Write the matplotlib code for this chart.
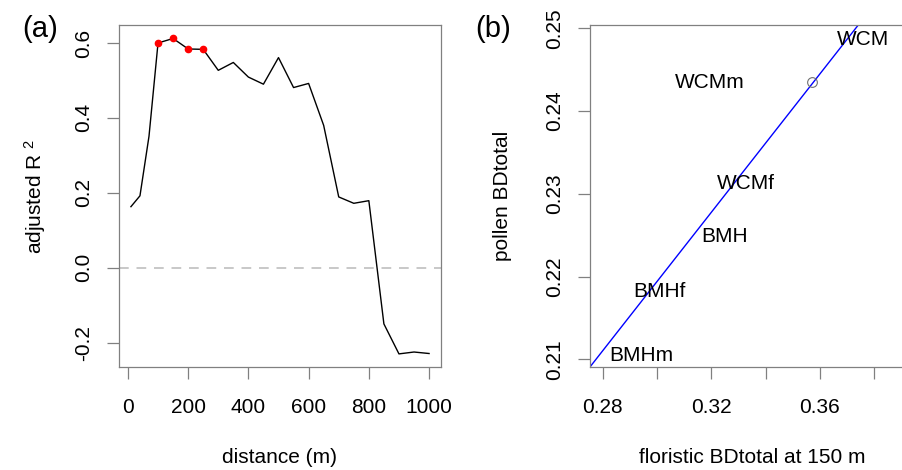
import matplotlib
matplotlib.use("Agg")
import matplotlib.pyplot as plt

plt.rcParams["font.family"] = ["Liberation Sans", "DejaVu Sans"]
plt.rcParams["mathtext.fontset"] = "custom"
plt.rcParams["mathtext.rm"] = "Liberation Sans"
plt.rcParams["mathtext.it"] = "Liberation Sans"

# panel (a): adjusted R2 against buffer distance
distance = [10, 40, 70, 100, 150, 200, 250, 300, 350, 400, 450, 500, 550,
            600, 650, 700, 750, 800, 850, 900, 950, 1000]
adj_r2 = [0.163, 0.192, 0.351, 0.600, 0.612, 0.584, 0.583, 0.527, 0.548,
          0.509, 0.490, 0.561, 0.481, 0.492, 0.380, 0.189, 0.172, 0.179,
          -0.150, -0.230, -0.225, -0.229]
best_dist = [100, 150, 200, 250]
best_r2 = [0.600, 0.612, 0.584, 0.583]

# panel (b): pollen vs floristic BDtotal
site_names = ["WCM", "WCMm", "WCMf", "BMH", "BMHf", "BMHm"]
site_x = [0.376, 0.3193, 0.3327, 0.3250, 0.3007, 0.2942]
site_y = [0.2487, 0.2434, 0.2313, 0.2248, 0.2182, 0.2104]
outlier_x = [0.357]
outlier_y = [0.2435]
fit_intercept = 0.094
fit_slope = 0.418

BOX = "#808080"
FS = 15


def style_axes(ax):
    for s in ax.spines.values():
        s.set_color(BOX)
        s.set_linewidth(0.9)
    ax.tick_params(direction="out", length=8.5, width=0.9, color=BOX,
                   labelsize=FS)
    ax.tick_params(axis="x", pad=14)
    ax.tick_params(axis="y", pad=10)
    for lab in ax.get_yticklabels():
        lab.set_rotation(90)
        lab.set_va("center")


fig = plt.figure(figsize=(9.03, 4.70), dpi=100)

# ---- panel (a)
ax1 = fig.add_axes([119 / 903, 1 - 367 / 470, (441 - 119) / 903, (367 - 25) / 470])
ax1.axhline(0, color="#c8c8c8", lw=1.4, ls=(0, (5, 4)))
ax1.plot(distance, adj_r2, color="black", lw=1.0)
ax1.plot(best_dist, best_r2, "o", color="red", ms=4.5, mec="red")
ax1.set_xlim(-29.6, 1039.6)
ax1.set_ylim(-0.265, 0.648)
ax1.set_xticks([0, 200, 400, 600, 800, 1000])
ax1.set_yticks([-0.2, 0.0, 0.2, 0.4, 0.6])
ax1.set_yticklabels(["-0.2", "0.0", "0.2", "0.4", "0.6"])
style_axes(ax1)
ax1.set_xlabel("distance (m)", fontsize=FS, labelpad=22)
ax1.set_ylabel("adjusted R $^{2}$", fontsize=FS, labelpad=19)
fig.text(40 / 903, 1 - 29 / 470, "(a)", fontsize=21, ha="center", va="center")

# ---- panel (b)
ax2 = fig.add_axes([590.3 / 903, 1 - 366.7 / 470, (914 - 590.3) / 903,
                    (366.7 - 25) / 470])
ax2.set_xlim(0.2754, 0.3947)
ax2.set_ylim(0.2091, 0.2504)
ax2.axline((0, fit_intercept), slope=fit_slope, color="blue", lw=1.0)
ax2.plot(outlier_x, outlier_y, "o", mfc="none", mec="#707070", ms=7, mew=0.8)
for name, x, y in zip(site_names, site_x, site_y):
    ax2.text(x, y, name, fontsize=FS, ha="center", va="center")
ax2.set_xticks([0.28, 0.30, 0.32, 0.34, 0.36, 0.38])
ax2.set_xticklabels(["0.28", "", "0.32", "", "0.36", ""])
ax2.set_yticks([0.21, 0.22, 0.23, 0.24, 0.25])
ax2.set_yticklabels(["0.21", "0.22", "0.23", "0.24", "0.25"])
style_axes(ax2)
ax2.set_xlabel("floristic BDtotal at 150 m", fontsize=FS, labelpad=22)
ax2.set_ylabel("pollen BDtotal", fontsize=FS, labelpad=24)
fig.text(493 / 903, 1 - 29 / 470, "(b)", fontsize=21, ha="center", va="center")

fig.savefig("out.png", dpi=100)
